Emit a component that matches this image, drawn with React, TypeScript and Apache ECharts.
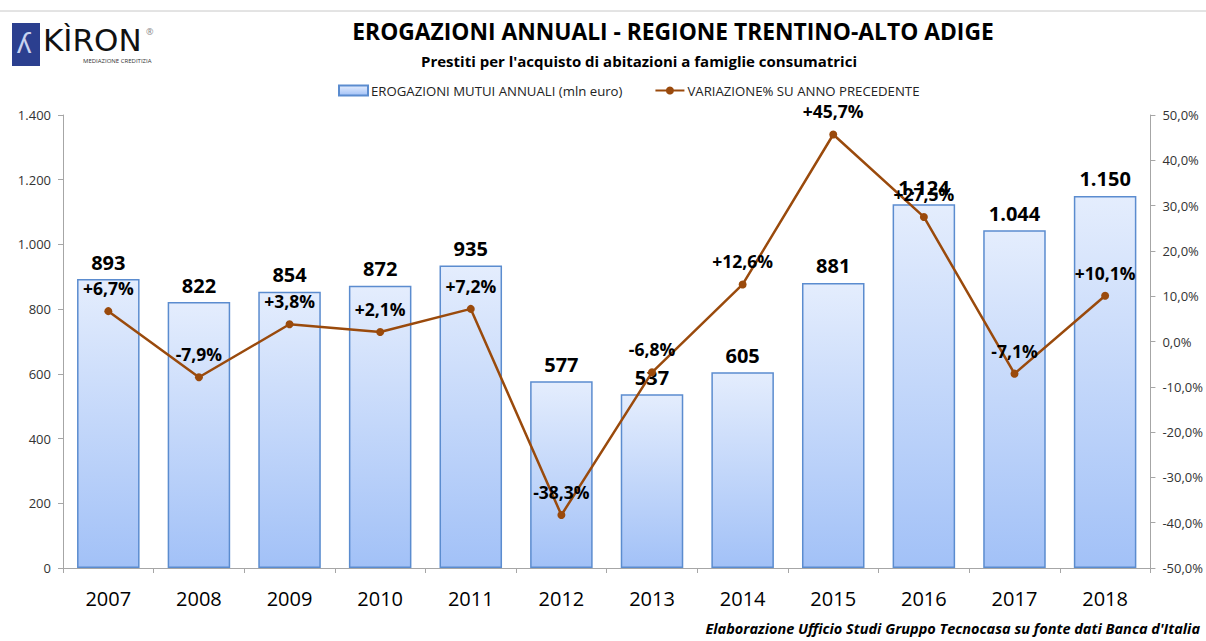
import React, { useEffect, useRef } from "react";
import * as echarts from "echarts";

const years = ["2007", "2008", "2009", "2010", "2011", "2012", "2013", "2014", "2015", "2016", "2017", "2018"];
const erogazioni = [893, 822, 854, 872, 935, 577, 537, 605, 881, 1124, 1044, 1150];
const variazione = [6.7, -7.9, 3.8, 2.1, 7.2, -38.3, -6.8, 12.6, 45.7, 27.5, -7.1, 10.1];
const leftTicks = { min: 0, max: 1400, interval: 200 };
const rightTicks = { min: -50, max: 50, interval: 10 };

const FONT = "'Open Sans', 'Noto Sans', sans-serif";
const BROWN = "#9a4a0c";

function fmtInt(v: number) {
  return String(v).replace(/\B(?=(\d{3})+(?!\d))/g, ".");
}
function fmtPct(v: number, sign: boolean) {
  const s = Math.abs(v).toFixed(1).replace(".", ",");
  if (v < 0) return "-" + s + "%";
  return (sign ? "+" : "") + s + "%";
}

export default function App() {
  const ref = useRef<HTMLDivElement>(null);
  useEffect(() => {
    if (!ref.current) return;
    const chart = echarts.init(ref.current, undefined, { renderer: "svg" });
    const barGrad = new echarts.graphic.LinearGradient(0, 0, 0, 1, [
      { offset: 0, color: "#e4edfd" },
      { offset: 1, color: "#a2c1f7" },
    ]);
    chart.setOption({
      animation: false,
      backgroundColor: "#ffffff",
      textStyle: { fontFamily: FONT },
      title: [
        {
          text: "EROGAZIONI ANNUALI - REGIONE TRENTINO-ALTO ADIGE",
          left: 668,
          top: 15,
          textAlign: "center",
          textStyle: { fontSize: 22.8, fontWeight: "bold", color: "#000", fontFamily: FONT },
        },
        {
          text: "Prestiti per l'acquisto di abitazioni a famiglie consumatrici",
          left: 634,
          top: 48,
          textAlign: "center",
          textStyle: { fontSize: 15, fontWeight: "bold", color: "#000", fontFamily: FONT },
        },
      ],
      legend: {
        top: 79,
        left: 333,
        itemWidth: 29,
        itemHeight: 10,
        itemGap: 32,
        textStyle: { fontSize: 13.2, color: "#222", fontFamily: FONT, padding: [0, 0, 0, -2] },
        data: [
          { name: "EROGAZIONI MUTUI ANNUALI (mln euro)", icon: "rect" },
          { name: "VARIAZIONE% SU ANNO PRECEDENTE" },
        ],
      },
      grid: { left: 63, right: 53, top: 115, bottom: 73, containLabel: false },
      xAxis: {
        type: "category",
        data: years,
        axisLine: { lineStyle: { color: "#a6a6a6" } },
        axisTick: { show: true, inside: false, length: 5, lineStyle: { color: "#a6a6a6" } },
        axisLabel: { fontSize: 20, color: "#000", margin: 20, fontFamily: FONT },
      },
      yAxis: [
        {
          type: "value",
          ...leftTicks,
          position: "left",
          axisLine: { show: true, lineStyle: { color: "#a6a6a6" } },
          axisTick: { show: true, length: 5, lineStyle: { color: "#a6a6a6" } },
          splitLine: { show: false },
          axisLabel: { fontSize: 13, color: "#333", margin: 12, formatter: (v: number) => fmtInt(v), fontFamily: FONT },
        },
        {
          type: "value",
          ...rightTicks,
          position: "right",
          axisLine: { show: true, lineStyle: { color: "#a6a6a6" } },
          axisTick: { show: true, length: 5, lineStyle: { color: "#a6a6a6" } },
          splitLine: { show: false },
          axisLabel: { fontSize: 13, color: "#333", margin: 12, formatter: (v: number) => fmtPct(v, false), fontFamily: FONT },
        },
      ],
      series: [
        {
          name: "EROGAZIONI MUTUI ANNUALI (mln euro)",
          type: "bar",
          yAxisIndex: 0,
          data: erogazioni,
          barCategoryGap: "31%",
          itemStyle: { color: barGrad, borderColor: "#5b8ccf", borderWidth: 1.5 },
          label: {
            show: true,
            position: "top",
            distance: 7,
            fontSize: 20,
            fontWeight: "bold",
            color: "#000",
            fontFamily: FONT,
            formatter: (p: any) => fmtInt(p.value),
          },
          z: 1,
        },
        {
          name: "VARIAZIONE% SU ANNO PRECEDENTE",
          type: "line",
          yAxisIndex: 1,
          data: variazione,
          symbol: "circle",
          symbolSize: 8,
          itemStyle: { color: BROWN },
          lineStyle: { color: BROWN, width: 2.5 },
          label: {
            show: true,
            position: "top",
            distance: 10,
            fontSize: 17.5,
            fontWeight: "bold",
            color: "#000",
            fontFamily: FONT,
            formatter: (p: any) => fmtPct(p.value, true),
          },
          z: 3,
        },
      ],
      graphic: [
        { type: "line", shape: { x1: 0, y1: 11, x2: 1206, y2: 11 }, style: { stroke: "#c8c8c8", lineWidth: 1 } },
        { type: "rect", shape: { x: 12, y: 23, width: 28, height: 43 }, style: { fill: "#2b3f8f" } },
        {
          type: "text",
          x: 17,
          y: 28,
          style: { text: "ʎ", fontSize: 28, fill: "#c9d3f0", fontFamily: FONT },
        },
        {
          type: "text",
          x: 43,
          y: 24,
          style: { text: "KÌRON", fontSize: 31, fontWeight: "normal", fill: "#111", fontFamily: "'DejaVu Sans', sans-serif" },
        },
        { type: "text", x: 146, y: 27, style: { text: "®", fontSize: 9, fill: "#888", fontFamily: FONT } },
        {
          type: "text",
          x: 83,
          y: 58,
          style: { text: "MEDIAZIONE CREDITIZIA", fontSize: 6, fill: "#333", fontFamily: FONT },
        },
        {
          type: "text",
          right: 6,
          top: 621,
          style: {
            text: "Elaborazione Ufficio Studi Gruppo Tecnocasa su fonte dati Banca d'Italia",
            fontSize: 14.5,
            fontWeight: "bold",
            fontStyle: "italic",
            fill: "#000",
            fontFamily: FONT,
          },
        },
      ],
    });
    return () => chart.dispose();
  }, []);
  return <div ref={ref} style={{ width: 1206, height: 641, position: "absolute", left: 0, top: 0 }} />;
}
